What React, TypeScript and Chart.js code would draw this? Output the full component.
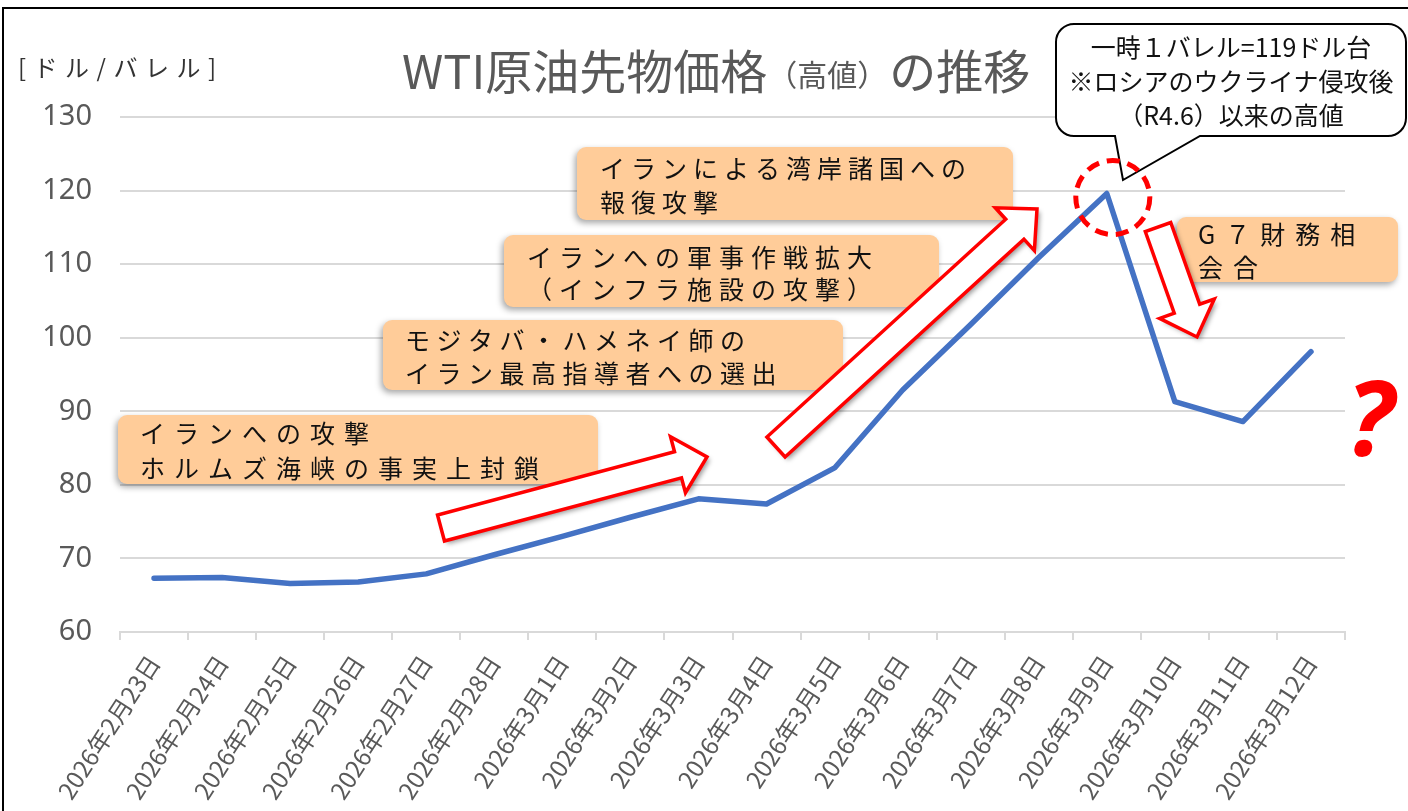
import React, { useEffect, useRef } from "react";
import { Chart, registerables } from "chart.js";

Chart.register(...registerables);

// ---------- data ----------
const dateLabels: string[] = [
  "2026年2月23日", "2026年2月24日", "2026年2月25日", "2026年2月26日", "2026年2月27日", "2026年2月28日",
  "2026年3月1日", "2026年3月2日", "2026年3月3日", "2026年3月4日", "2026年3月5日", "2026年3月6日",
  "2026年3月7日", "2026年3月8日", "2026年3月9日", "2026年3月10日", "2026年3月11日", "2026年3月12日",
];
const wtiHighPrices: number[] = [
  67.3, 67.4, 66.6, 66.8, 67.9, 70.5, 73.0, 75.6, 78.1, 77.4, 82.3, 92.9, 101.8, 110.9, 119.6, 91.3, 88.6, 98.1,
];
const yMin = 60;
const yMax = 130;
const yStep = 10;

const titleMain = "WTI原油先物価格";
const titleSub = "（高値）";
const titleTail = "の推移";
const yUnitLabel = "[ドル/バレル]";

const eventLines: string[][] = [
  ["イランへの攻撃", "ホルムズ海峡の事実上封鎖"],
  ["モジタバ・ハメネイ師の", "イラン最高指導者への選出"],
  ["イランへの軍事作戦拡大", "（インフラ施設の攻撃）"],
  ["イランによる湾岸諸国への", "報復攻撃"],
  ["G７財務相", "会合"],
];
const calloutLines: string[] = ["一時１バレル=119ドル台", "※ロシアのウクライナ侵攻後", "（R4.6）以来の高値"];
const peakIndex = 14;
const questionMark = "?";

// ---------- layout (pixels) ----------
const W = 1408;
const H = 900;
const boxLayout = [
  { x: 118, y: 415, w: 480, h: 69, tx: 140, ty: [433, 468], ls: 9 },
  { x: 383, y: 320, w: 460, h: 70, tx: 405, ty: [340, 373], ls: 6.5 },
  { x: 504, y: 235, w: 435, h: 72, tx: 527, ty: [257, 289], ls: 7 },
  { x: 577, y: 147, w: 436, h: 73, tx: 600, ty: [168, 202], ls: 6 },
  { x: 1177, y: 217, w: 221, h: 65, tx: 1198, ty: [234, 267], ls: 10 },
];
const arrowLayout = [
  { tail: [441, 528], tip: [707, 457] },
  { tail: [776, 447], tip: [1037, 209] },
  { tail: [1158, 227], tip: [1197, 337] },
];
const JP = '"Noto Sans CJK JP", "Noto Sans", sans-serif';

function drawArrow(ctx: CanvasRenderingContext2D, t: number[], p: number[]) {
  const shaft = 27, headW = 58, headL = 30;
  const dx = p[0] - t[0], dy = p[1] - t[1];
  const L = Math.hypot(dx, dy);
  const ux = dx / L, uy = dy / L;
  const nx = -uy, ny = ux;
  const bx = p[0] - ux * headL, by = p[1] - uy * headL;
  const pts = [
    [t[0] + nx * shaft / 2, t[1] + ny * shaft / 2],
    [bx + nx * shaft / 2, by + ny * shaft / 2],
    [bx + nx * headW / 2, by + ny * headW / 2],
    [p[0], p[1]],
    [bx - nx * headW / 2, by - ny * headW / 2],
    [bx - nx * shaft / 2, by - ny * shaft / 2],
    [t[0] - nx * shaft / 2, t[1] - ny * shaft / 2],
  ];
  ctx.beginPath();
  pts.forEach((q, i) => (i ? ctx.lineTo(q[0], q[1]) : ctx.moveTo(q[0], q[1])));
  ctx.closePath();
  ctx.save();
  ctx.shadowColor = "rgba(0,0,0,0.4)";
  ctx.shadowBlur = 5;
  ctx.shadowOffsetX = 3;
  ctx.shadowOffsetY = 3;
  ctx.fillStyle = "#ffffff";
  ctx.fill();
  ctx.restore();
  ctx.lineWidth = 3.5;
  ctx.lineJoin = "miter";
  ctx.strokeStyle = "#ff0000";
  ctx.stroke();
}

const overlayPlugin = {
  id: "overlay",
  afterDraw(chart: any) {
    const ctx: CanvasRenderingContext2D = chart.ctx;
    ctx.save();

    // title
    ctx.fillStyle = "#595959";
    ctx.textBaseline = "alphabetic";
    ctx.textAlign = "left";
    let x = 402;
    ctx.font = `47px ${JP}`;
    ctx.fillText(titleMain, x, 89);
    x += ctx.measureText(titleMain).width;
    ctx.font = `30px ${JP}`;
    ctx.fillText(titleSub, x, 86);
    x += ctx.measureText(titleSub).width + 2;
    ctx.font = `47px ${JP}`;
    ctx.fillText(titleTail, x, 89);

    // unit label
    ctx.fillStyle = "#333333";
    ctx.font = `24px ${JP}`;
    (ctx as any).letterSpacing = "7.5px";
    ctx.textBaseline = "middle";
    ctx.fillText(yUnitLabel, 18, 68);

    // event boxes
    boxLayout.forEach((b, i) => {
      ctx.save();
      ctx.shadowColor = "rgba(0,0,0,0.35)";
      ctx.shadowBlur = 6;
      ctx.shadowOffsetX = -2;
      ctx.shadowOffsetY = 3;
      ctx.fillStyle = "#FFCC99";
      ctx.beginPath();
      (ctx as any).roundRect(b.x, b.y, b.w, b.h, 9);
      ctx.fill();
      ctx.restore();
      ctx.fillStyle = "#111111";
      ctx.font = `25px ${JP}`;
      (ctx as any).letterSpacing = `${b.ls}px`;
      ctx.textBaseline = "middle";
      eventLines[i].forEach((line, j) => ctx.fillText(line, b.tx, b.ty[j]));
    });
    (ctx as any).letterSpacing = "0px";

    // arrows
    arrowLayout.forEach((a) => drawArrow(ctx, a.tail, a.tip));

    // callout
    const cx0 = 1056, cy0 = 24, cx1 = 1406, cy1 = 136, r = 18;
    ctx.beginPath();
    ctx.moveTo(cx0 + r, cy0);
    ctx.lineTo(cx1 - r, cy0);
    ctx.arcTo(cx1, cy0, cx1, cy0 + r, r);
    ctx.lineTo(cx1, cy1 - r);
    ctx.arcTo(cx1, cy1, cx1 - r, cy1, r);
    ctx.lineTo(1200, cy1);
    ctx.lineTo(1123, 180);
    ctx.lineTo(1115, cy1);
    ctx.lineTo(cx0 + r, cy1);
    ctx.arcTo(cx0, cy1, cx0, cy1 - r, r);
    ctx.lineTo(cx0, cy0 + r);
    ctx.arcTo(cx0, cy0, cx0 + r, cy0, r);
    ctx.closePath();
    ctx.fillStyle = "#ffffff";
    ctx.fill();
    ctx.lineWidth = 2;
    ctx.strokeStyle = "#000000";
    ctx.stroke();
    ctx.fillStyle = "#111111";
    ctx.font = `25px ${JP}`;
    ctx.textAlign = "center";
    ctx.textBaseline = "middle";
    calloutLines.forEach((line, j) => ctx.fillText(line, 1231, 47 + j * 34));

    // dashed circle around peak
    const xs = chart.scales.x, ys = chart.scales.y;
    const px = xs.getPixelForValue(peakIndex) + 6;
    const py = ys.getPixelForValue(wtiHighPrices[peakIndex]) + 4;
    ctx.beginPath();
    ctx.setLineDash([13, 8]);
    ctx.lineWidth = 5;
    ctx.strokeStyle = "#ff0000";
    ctx.arc(px, py, 37, 0, Math.PI * 2);
    ctx.stroke();
    ctx.setLineDash([]);

    // question mark
    ctx.fillStyle = "#ff0000";
    ctx.font = `italic bold 104px "Noto Sans", sans-serif`;
    ctx.textAlign = "center";
    ctx.textBaseline = "alphabetic";
    ctx.fillText(questionMark, 1370, 456);

    ctx.restore();
  },
};

export default function App() {
  const ref = useRef<HTMLCanvasElement | null>(null);
  useEffect(() => {
    if (!ref.current) return;
    const chart = new Chart(ref.current, {
      type: "line",
      data: {
        labels: dateLabels,
        datasets: [
          {
            label: "WTI",
            data: wtiHighPrices,
            borderColor: "#4472C4",
            borderWidth: 5.5,
            pointRadius: 0,
            tension: 0,
            borderCapStyle: "round",
            borderJoinStyle: "round",
          },
        ],
      },
      options: {
        responsive: false,
        animation: false,
        devicePixelRatio: 1,
        layout: { padding: { top: 117, right: 63, left: 0, bottom: 0 } },
        plugins: { legend: { display: false }, title: { display: false }, tooltip: { enabled: false } },
        scales: {
          x: {
            type: "category",
            offset: true,
            grid: { offset: true, drawOnChartArea: false, drawTicks: true, tickLength: 8, color: "#D9D9D9", lineWidth: 2 },
            border: { display: true, color: "#D9D9D9", width: 2 },
            ticks: {
              autoSkip: false,
              minRotation: 57,
              maxRotation: 57,
              padding: 10,
              color: "#595959",
              font: { size: 24, family: JP },
            },
            afterFit(scale: any) {
              scale.height = H - 632;
            },
          },
          y: {
            min: yMin,
            max: yMax,
            ticks: {
              stepSize: yStep,
              padding: 28,
              color: "#595959",
              font: { size: 29, family: '"Noto Sans", sans-serif' },
            },
            grid: { color: "#D9D9D9", lineWidth: 2, drawTicks: false },
            border: { display: false },
            afterFit(scale: any) {
              scale.width = 120;
            },
          },
        },
      },
      plugins: [overlayPlugin],
    });
    return () => chart.destroy();
  }, []);

  return (
    <div style={{ position: "fixed", left: 0, top: 0, width: W, height: 811, overflow: "hidden", background: "#fff" }}>
      <div style={{ position: "absolute", left: 2, top: 7, width: 1500, height: 1000, border: "2px solid #000", boxSizing: "border-box" }} />
      <canvas ref={ref} width={W} height={H} style={{ position: "absolute", left: 0, top: 0, display: "block" }} />
    </div>
  );
}
